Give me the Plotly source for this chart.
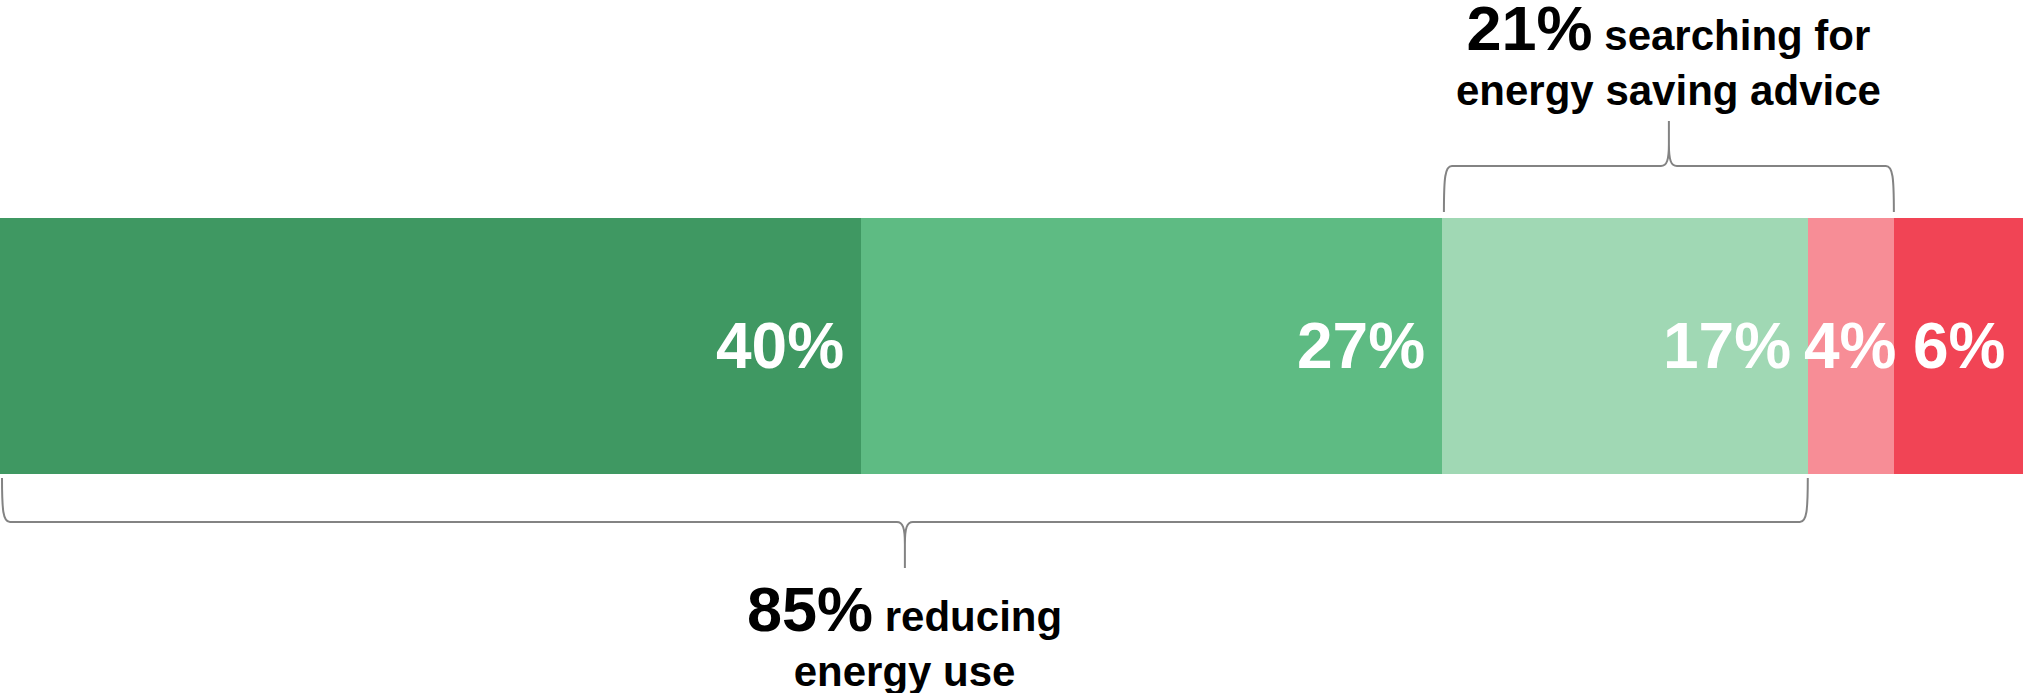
import plotly.graph_objects as go

# ---------------- data ----------------
segments = ["Segment A", "Segment B", "Segment C", "Segment D", "Segment E"]
values = [40, 27, 17, 4, 6]
value_labels = ["40%", "27%", "17%", "4%", "6%"]

# braces: (first segment index, last segment index)
brace_spans = [(2, 3), (0, 2)]
brace_values = ["21%", "85%"]
brace_line1 = ["searching for", "reducing"]
brace_line2 = ["energy saving advice", "energy use"]
brace_sides = ["top", "bottom"]

# ---------------- style ----------------
colors = ["#3f9862", "#5ebb83", "#a0d8b4", "#f78d96", "#f14455"]
FONT = "Liberation Sans, Arial, Helvetica, sans-serif"
BRACE_COLOR = "#838383"

W, H = 2023, 693
M_T, M_B = 218, 219
plot_h = H - M_T - M_B
total = sum(values)
px_per_unit = W / total


def py(p):
    """pixel from top of figure -> paper y"""
    return (H - M_B - p) / plot_h


def dx(px):
    return px / px_per_unit


def text_width(s, size):
    w = {"%": 0.889}
    return sum(w.get(c, 0.556) for c in s) * size


fig = go.Figure()
for name, v, c in zip(segments, values, colors):
    fig.add_trace(go.Bar(
        y=[""], x=[v], name=name, orientation="h",
        marker=dict(color=c, line=dict(width=0)),
        hoverinfo="skip", showlegend=False,
    ))

annotations = []
shapes = []

# value labels inside bars
cum = 0
LABEL_SIZE = 64
PAD = 15
for v, lab in zip(values, value_labels):
    start, end = cum, cum + v
    cum = end
    seg_px = v * px_per_unit
    fits = text_width(lab, LABEL_SIZE) + 2 * (PAD + 1) <= seg_px
    annotations.append(dict(
        x=end if fits else (start + end) / 2, y=0.5, xref="x", yref="paper",
        xanchor="right" if fits else "center", yanchor="middle",
        xshift=-PAD if fits else 0,
        text=lab, showarrow=False,
        font=dict(family=FONT, size=LABEL_SIZE, color="white", weight="bold"),
    ))

# braces
starts = [sum(values[:i]) for i in range(len(values))]
ends = [sum(values[:i + 1]) for i in range(len(values))]


def brace_path(x0, x1, y_end, y_line, y_tip):
    d = 1 if y_tip > y_line else -1
    tip = (x0 + x1) / 2

    def P(x, y):
        return f"{x:.4f},{py(y):.5f}"
    path = (
        f"M {P(x0, y_end)} "
        f"C {P(x0, y_line - d * 12)} {P(x0 + dx(1), y_line)} {P(x0 + dx(8), y_line)} "
        f"L {P(tip - dx(8), y_line)} "
        f"C {P(tip - dx(2), y_line)} {P(tip, y_line + d * 6)} {P(tip, y_line + d * 22)} "
        f"L {P(tip, y_tip)} "
        f"L {P(tip, y_line + d * 22)} "
        f"C {P(tip, y_line + d * 6)} {P(tip + dx(2), y_line)} {P(tip + dx(8), y_line)} "
        f"L {P(x1 - dx(8), y_line)} "
        f"C {P(x1 - dx(1), y_line)} {P(x1, y_line - d * 12)} {P(x1, y_end)}"
    )
    return path, tip


for (i0, i1), bv, l1, l2, side in zip(brace_spans, brace_values, brace_line1,
                                      brace_line2, brace_sides):
    x0 = starts[i0] + dx(2)
    x1 = ends[i1]
    if side == "top":
        path, tip = brace_path(x0, x1, 212, 166, 121)
        ty, yanchor = py(116), "bottom"
    else:
        path, tip = brace_path(x0, x1, 478, 522, 568)
        ty, yanchor = py(572), "top"
    shapes.append(dict(type="path", path=path, xref="x", yref="paper",
                       line=dict(color=BRACE_COLOR, width=2),
                       fillcolor="rgba(0,0,0,0)", layer="above"))
    annotations.append(dict(
        x=tip, y=ty, xref="x", yref="paper", xanchor="center", yanchor=yanchor,
        showarrow=False, align="center",
        text=f"<span style='font-size:63px'>{bv}</span> {l1}<br>{l2}",
        font=dict(family=FONT, size=42, color="black", weight="bold"),
    ))

fig.update_layout(
    width=W, height=H,
    margin=dict(l=0, r=0, t=M_T, b=M_B, pad=0),
    barmode="stack", bargap=0,
    paper_bgcolor="white", plot_bgcolor="white",
    xaxis=dict(range=[0, total], visible=False, fixedrange=True),
    yaxis=dict(range=[-0.5, 0.5], visible=False, fixedrange=True),
    annotations=annotations, shapes=shapes,
    showlegend=False,
)

fig.write_html(
    "out.html",
    config={"displayModeBar": False},
    post_script="document.body.style.margin='0';document.body.style.overflow='hidden';",
)
